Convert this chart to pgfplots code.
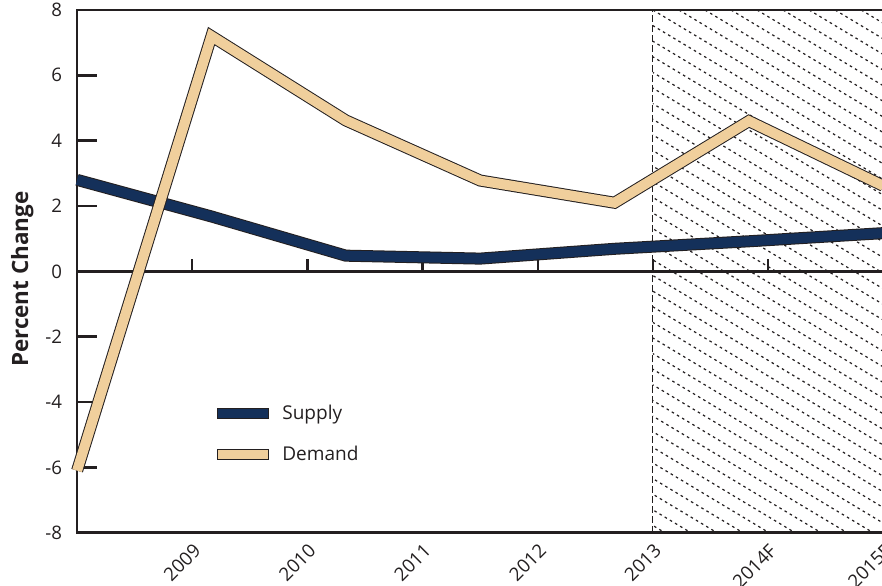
\documentclass[border=0pt]{standalone}
\usepackage{fontspec}
\setmainfont{Open Sans}
\usepackage{pgfplots}
\pgfplotsset{compat=1.18}
\definecolor{supplycol}{HTML}{14305A}
\definecolor{demandcol}{HTML}{F0CF9C}
\definecolor{outl}{HTML}{231F20}
\begin{document}
\begin{tikzpicture}
\begin{axis}[
  scale only axis, width=402.5pt, height=261pt,
  xmin=0, xmax=7, ymin=-8, ymax=8,
  clip=false,
  axis line style={line width=1.2pt, outl},
  xtick={1,2,3,4,5,6,7},
  xticklabels={2009,2010,2011,2012,2013,2014F,2015F},
  xtick style={draw=none},
  xticklabel style={rotate=45, anchor=north east, font=\fontsize{9.3}{10}\selectfont, text=outl},
  xticklabel pos=lower,
  ytick={-8,-6,-4,-2,0,2,4,6,8},
  yticklabels={-8,-6,-4,-2,0,2,4,6,8},
  ytick pos=left,
  ytick style={line width=1.2pt, outl},
  tick align=inside,
  major tick length=10pt,
  yticklabel style={font=\fontsize{9.3}{10}\selectfont, xshift=-4pt, text=outl},
  ylabel={\bfseries Percent Change},
  ylabel style={at={(axis description cs:-0.068,0.485)}, anchor=center, font=\fontsize{11.2}{13}\selectfont, text=outl},
  legend style={draw=none, fill=none, inner sep=0pt, at={(axis description cs:0.1727,0.1885)}, anchor=west, font=\fontsize{9.5}{11}\selectfont, row sep=8pt, text=outl},
  legend cell align=left,
]
\coordinate (bbsw) at (rel axis cs:0,0);
\coordinate (bbne) at (rel axis cs:1,1);
\coordinate (htl) at (axis cs:5,8);
\begin{scope}
\clip (axis cs:5,-8) rectangle (axis cs:7,8);
\pgfplotsinvokeforeach{-36,...,10}{\draw[outl, line width=0.6pt, dash pattern=on 1.3pt off 1.7pt] ([xshift=#1*13pt]htl) -- ++(500pt,-300pt);}
\end{scope}
\draw[outl, line width=0.5pt, dash pattern=on 3.5pt off 1.5pt] (axis cs:5,-8) -- (axis cs:5,8);
\draw[outl, line width=1.2pt] (axis cs:0,0) -- (axis cs:7,0);
\pgfplotsinvokeforeach{1,...,7}{\draw[outl, line width=1.2pt] (axis cs:#1,0) -- ([yshift=6pt]axis cs:#1,0);}

\addplot[outl, line width=6pt, no markers, forget plot] coordinates {
(0,2.8) (1.16667,1.68) (2.33333,0.48) (3.5,0.39) (4.66667,0.69) (5.83333,0.92) (7,1.17)};
\addplot[supplycol, line width=5pt, no markers,
  legend image code/.code={\draw[line width=0.5pt, draw=outl, fill=supplycol] (0pt,-2.5pt) rectangle (25.5pt,2.5pt); \path (28pt,0pt);}] coordinates {
(0,2.8) (1.16667,1.68) (2.33333,0.48) (3.5,0.39) (4.66667,0.69) (5.83333,0.92) (7,1.17)};
\addlegendentry{Supply}
\addplot[outl, line width=6pt, no markers, forget plot] coordinates {
(0,-6.1) (1.16667,7.2) (2.33333,4.62) (3.5,2.78) (4.66667,2.1) (5.83333,4.6) (7,2.62)};
\addplot[demandcol, line width=5pt, no markers,
  legend image code/.code={\draw[line width=0.5pt, draw=outl, fill=demandcol] (0pt,-2.5pt) rectangle (25.5pt,2.5pt); \path (28pt,0pt);}] coordinates {
(0,-6.1) (1.16667,7.2) (2.33333,4.62) (3.5,2.78) (4.66667,2.1) (5.83333,4.6) (7,2.62)};
\addlegendentry{Demand}
\end{axis}
\pgfresetboundingbox
\path[use as bounding box] ([xshift=-38.5pt,yshift=-26.5pt]bbsw) rectangle ([xshift=-0.6pt,yshift=5pt]bbne);
\end{tikzpicture}
\end{document}
